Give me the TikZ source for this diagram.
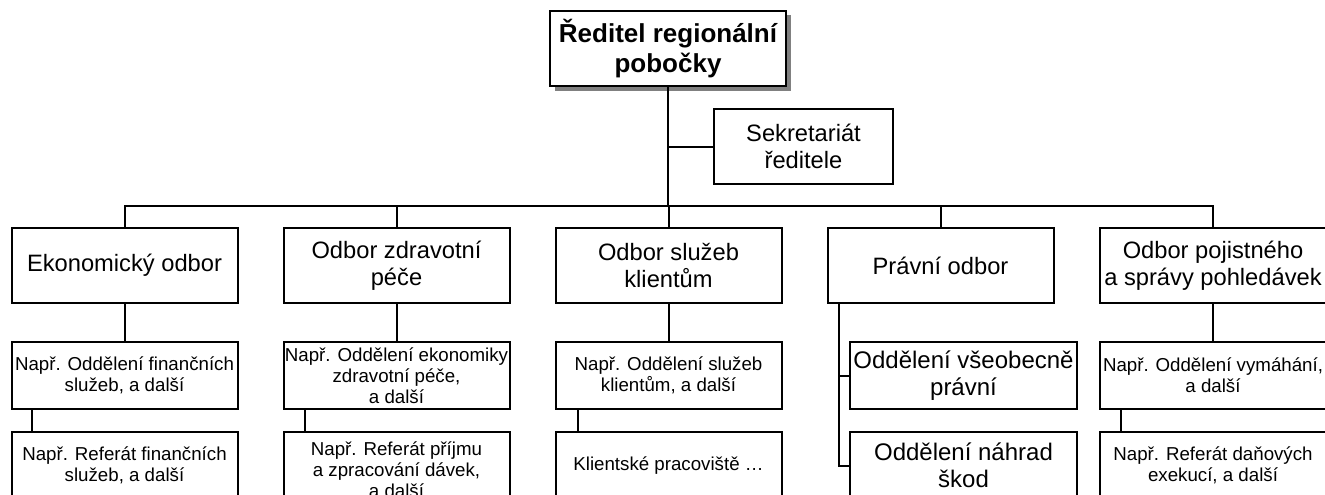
\documentclass[tikz,border=0pt]{standalone}
\usepackage{fontspec}
\setmainfont{Liberation Sans}
\usetikzlibrary{shadows}
\begin{document}
\begin{tikzpicture}[x=1pt,y=-1pt,
  box/.style={draw, line width=2pt, inner sep=0pt, align=center, fill=white},
  unit/.style={box, minimum width=226pt, minimum height=75pt,
    font=\fontsize{23.7}{27}\selectfont},
  sub/.style={box, minimum width=226pt, minimum height=67pt,
    font=\fontsize{18.7}{21}\selectfont},
  legal/.style={box, minimum width=227pt, minimum height=67pt,
    font=\fontsize{24}{27}\selectfont},
  link/.style={line width=2pt}]
\useasboundingbox (0,0) rectangle (1325,495);
\clip (0,0) rectangle (1325,495);

% director
\node[box, line width=2.3pt, minimum width=236pt, minimum height=75pt,
  font=\bfseries\fontsize{26}{30}\selectfont,
  drop shadow={shadow xshift=4.5pt, shadow yshift=-4.5pt, fill=black!50, opacity=1}]
  (dir) at (668,48.5) {Ředitel regionální\\pobočky};

% secretariat
\node[unit, minimum width=179pt] (sek) at (803.5,146.5) {Sekretariát\\ředitele};

% departments
\node[unit] (eko) at (124.5,265.5) {Ekonomický odbor};
\node[unit] (zdr) at (396.5,265.5) {Odbor zdravotní\\péče};
\node[unit] (klt) at (668.5,265.5) {Odbor služeb\\klientům};
\node[unit] (prv) at (940.5,265.5) {Právní odbor};
\node[unit] (poj) at (1213,265.5) {Odbor pojistného\\a správy pohledávek};

% sections
\node[sub] (eko2) at (124.5,375.5) {Např. Oddělení finančních\\služeb, a další};
\node[sub] (zdr2) at (396.5,375.5) {Např. Oddělení ekonomiky\\zdravotní péče,\\a další};
\node[sub] (klt2) at (668.5,375.5) {Např. Oddělení služeb\\klientům, a další};
\node[legal] (odvs) at (963.5,375.5) {Oddělení všeobecně\\právní};
\node[sub] (poj2) at (1213,375.5) {Např. Oddělení vymáhání,\\a další};

% units below sections
\node[sub] (eko3) at (124.5,465.5) {Např. Referát finančních\\služeb, a další};
\node[sub, minimum height=75pt] (zdr3) at (396.5,469.5) {Např. Referát příjmu\\a zpracování dávek,\\a další};
\node[sub] (klt3) at (668.5,465.5) {Klientské pracoviště …};
\node[legal] (odsk) at (963.5,465.5) {Oddělení náhrad\\škod};
\node[sub] (poj3) at (1213,465.5) {Např. Referát daňových\\exekucí, a další};

% connectors
\coordinate (bus) at (0,206);
\coordinate (pv) at (839,0);
\draw[link] (dir.south) -- (dir.south |- bus);
\draw[link] (sek.west) -- (sek.west -| dir.south);
\draw[link] (eko.north) -- (eko.north |- bus) -- (poj.north |- bus) -- (poj.north);
\draw[link] (zdr.north) -- (zdr.north |- bus);
\draw[link] (klt.north) -- (klt.north |- bus);
\draw[link] (prv.north) -- (prv.north |- bus);

\draw[link] (eko.south) -- (eko2.north);
\draw[link] (zdr.south) -- (zdr2.north);
\draw[link] (klt.south) -- (klt2.north);
\draw[link] (poj.south) -- (poj2.north);

\draw[link] ([xshift=21pt]eko2.south west) -- ([xshift=21pt]eko3.north west);
\draw[link] ([xshift=22pt]zdr2.south west) -- ([xshift=22pt]zdr3.north west);
\draw[link] ([xshift=23pt]klt2.south west) -- ([xshift=23pt]klt3.north west);
\draw[link] ([xshift=22pt]poj2.south west) -- ([xshift=22pt]poj3.north west);

\draw[link] (prv.south -| pv) -- (pv |- odsk.west) -- (odsk.west);
\draw[link] (pv |- odvs.west) -- (odvs.west);
\end{tikzpicture}
\end{document}
